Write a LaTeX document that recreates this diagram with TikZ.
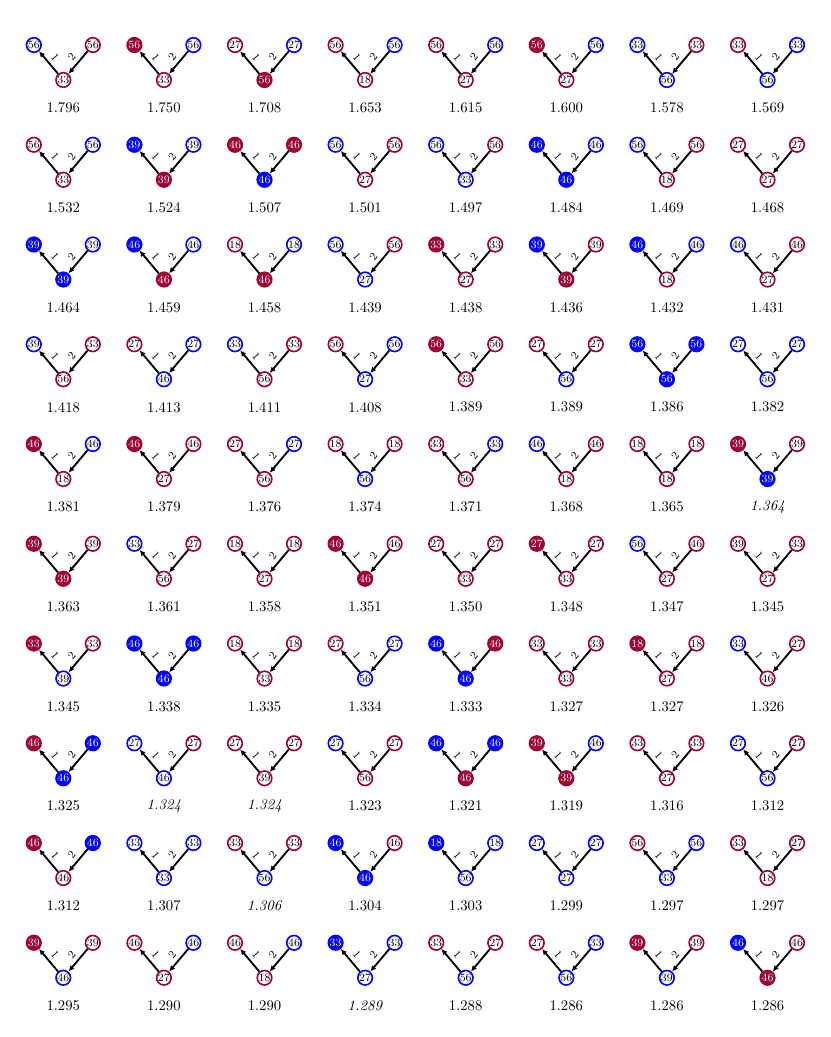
\documentclass[tikz,border=0pt]{standalone}
\usetikzlibrary{arrows.meta}
\definecolor{myblue}{RGB}{0,0,255}
\definecolor{mymaroon}{RGB}{155,0,55}
\tikzset{
  vtx/.style={circle,line width=1.1pt,minimum size=9.9pt,inner sep=0pt,font=\fontsize{7.6}{8}\selectfont},
  bo/.style={draw=myblue,fill=white,text=black},
  bf/.style={draw=myblue,fill=myblue,text=white},
  ro/.style={draw=mymaroon,fill=white,text=black},
  rf/.style={draw=mymaroon,fill=mymaroon,text=white},
  edg/.style={line width=1.25pt,-{Latex[length=4pt,width=3.8pt]}},
  lbl/.style={sloped,above=1.6pt,inner sep=1pt,font=\fontsize{7.6}{8}\selectfont},
  val/.style={inner sep=0pt,font=\fontsize{10}{12}\selectfont}
}
\newcommand\mygr[9]{%
  \pgfmathsetmacro\cx{63.3+100.6*(#2-1)}%
  \pgfmathsetmacro\cy{45+99.75*(#1-1)}%
  \node[vtx,#3] (t#1-#2a) at (\cx-29.5,\cy) {#4};
  \node[vtx,#5] (t#1-#2b) at (\cx+29.5,\cy) {#6};
  \node[vtx,#7] (t#1-#2c) at (\cx,\cy+35) {#8};
  \draw[edg] (t#1-#2c) -- node[lbl]{1} (t#1-#2a);
  \draw[edg] (t#1-#2b) -- node[lbl]{2} (t#1-#2c);
  \node[val] (v#1-#2) at (\cx,\cy+63) {#9};
}
\begin{document}
\begin{tikzpicture}[x=0.68pt,y=-0.68pt]
\useasboundingbox (0,0) rectangle (830,1037);
\mygr{1}{1}{bo}{56}{ro}{56}{ro}{33}{1.796}
\mygr{1}{2}{rf}{56}{bo}{56}{ro}{33}{1.750}
\mygr{1}{3}{ro}{27}{bo}{27}{rf}{56}{1.708}
\mygr{1}{4}{ro}{56}{bo}{56}{ro}{18}{1.653}
\mygr{1}{5}{ro}{56}{bo}{56}{ro}{27}{1.615}
\mygr{1}{6}{rf}{56}{bo}{56}{ro}{27}{1.600}
\mygr{1}{7}{bo}{33}{ro}{33}{bo}{56}{1.578}
\mygr{1}{8}{ro}{33}{bo}{33}{bo}{56}{1.569}
\mygr{2}{1}{ro}{56}{bo}{56}{ro}{33}{1.532}
\mygr{2}{2}{bf}{39}{bo}{39}{rf}{39}{1.524}
\mygr{2}{3}{rf}{46}{rf}{46}{bf}{46}{1.507}
\mygr{2}{4}{bo}{56}{ro}{56}{ro}{27}{1.501}
\mygr{2}{5}{bo}{56}{ro}{56}{bo}{33}{1.497}
\mygr{2}{6}{bf}{46}{bo}{46}{bf}{46}{1.484}
\mygr{2}{7}{bo}{56}{ro}{56}{ro}{18}{1.469}
\mygr{2}{8}{ro}{27}{ro}{27}{ro}{27}{1.468}
\mygr{3}{1}{bf}{39}{bo}{39}{bf}{39}{1.464}
\mygr{3}{2}{bf}{46}{bo}{46}{rf}{46}{1.459}
\mygr{3}{3}{ro}{18}{bo}{18}{rf}{46}{1.458}
\mygr{3}{4}{bo}{56}{ro}{56}{bo}{27}{1.439}
\mygr{3}{5}{rf}{33}{ro}{33}{ro}{27}{1.438}
\mygr{3}{6}{bf}{39}{ro}{39}{rf}{39}{1.436}
\mygr{3}{7}{bf}{46}{bo}{46}{ro}{18}{1.432}
\mygr{3}{8}{bo}{46}{ro}{46}{ro}{27}{1.431}
\mygr{4}{1}{bo}{39}{ro}{33}{ro}{56}{1.418}
\mygr{4}{2}{ro}{27}{bo}{27}{bo}{46}{1.413}
\mygr{4}{3}{bo}{33}{ro}{33}{ro}{56}{1.411}
\mygr{4}{4}{ro}{56}{bo}{56}{bo}{27}{1.408}
\mygr{4}{5}{rf}{56}{ro}{56}{ro}{33}{1.389}
\mygr{4}{6}{ro}{27}{ro}{27}{bo}{56}{1.389}
\mygr{4}{7}{bf}{56}{bf}{56}{bf}{56}{1.386}
\mygr{4}{8}{bo}{27}{bo}{27}{bo}{56}{1.382}
\mygr{5}{1}{rf}{46}{bo}{46}{ro}{18}{1.381}
\mygr{5}{2}{rf}{46}{ro}{46}{ro}{27}{1.379}
\mygr{5}{3}{ro}{27}{bo}{27}{ro}{56}{1.376}
\mygr{5}{4}{ro}{18}{ro}{18}{bo}{56}{1.374}
\mygr{5}{5}{ro}{33}{bo}{33}{ro}{56}{1.371}
\mygr{5}{6}{bo}{46}{ro}{46}{ro}{18}{1.368}
\mygr{5}{7}{ro}{18}{ro}{18}{ro}{18}{1.365}
\mygr{5}{8}{rf}{39}{ro}{39}{bf}{39}{\textit{1.364}}
\mygr{6}{1}{rf}{39}{ro}{39}{rf}{39}{1.363}
\mygr{6}{2}{bo}{33}{ro}{27}{ro}{56}{1.361}
\mygr{6}{3}{ro}{18}{ro}{18}{ro}{27}{1.358}
\mygr{6}{4}{rf}{46}{ro}{46}{rf}{46}{1.351}
\mygr{6}{5}{ro}{27}{ro}{27}{ro}{33}{1.350}
\mygr{6}{6}{rf}{27}{ro}{27}{ro}{33}{1.348}
\mygr{6}{7}{bo}{56}{ro}{46}{ro}{27}{1.347}
\mygr{6}{8}{ro}{39}{ro}{33}{ro}{27}{1.345}
\mygr{7}{1}{rf}{33}{ro}{33}{bo}{39}{1.345}
\mygr{7}{2}{bf}{46}{bf}{46}{bf}{46}{1.338}
\mygr{7}{3}{ro}{18}{ro}{18}{ro}{33}{1.335}
\mygr{7}{4}{ro}{27}{bo}{27}{bo}{56}{1.334}
\mygr{7}{5}{bf}{46}{rf}{46}{bf}{46}{1.333}
\mygr{7}{6}{ro}{33}{ro}{33}{ro}{33}{1.327}
\mygr{7}{7}{rf}{18}{ro}{18}{ro}{27}{1.327}
\mygr{7}{8}{bo}{33}{ro}{27}{ro}{46}{1.326}
\mygr{8}{1}{rf}{46}{bf}{46}{bf}{46}{1.325}
\mygr{8}{2}{bo}{27}{ro}{27}{bo}{46}{\textit{1.324}}
\mygr{8}{3}{ro}{27}{ro}{27}{ro}{39}{\textit{1.324}}
\mygr{8}{4}{bo}{27}{ro}{27}{ro}{56}{1.323}
\mygr{8}{5}{bf}{46}{bf}{46}{rf}{46}{1.321}
\mygr{8}{6}{rf}{39}{bo}{46}{rf}{39}{1.319}
\mygr{8}{7}{ro}{33}{ro}{33}{ro}{27}{1.316}
\mygr{8}{8}{bo}{27}{ro}{27}{bo}{56}{1.312}
\mygr{9}{1}{rf}{46}{bf}{46}{ro}{46}{1.312}
\mygr{9}{2}{bo}{33}{bo}{33}{bo}{33}{1.307}
\mygr{9}{3}{ro}{33}{ro}{33}{bo}{56}{\textit{1.306}}
\mygr{9}{4}{bf}{46}{ro}{46}{bf}{46}{1.304}
\mygr{9}{5}{bf}{18}{bo}{18}{bo}{56}{1.303}
\mygr{9}{6}{bo}{27}{bo}{27}{bo}{27}{1.299}
\mygr{9}{7}{ro}{56}{bo}{56}{bo}{33}{1.297}
\mygr{9}{8}{ro}{33}{ro}{27}{ro}{18}{1.297}
\mygr{10}{1}{rf}{39}{ro}{39}{bo}{46}{1.295}
\mygr{10}{2}{ro}{46}{bo}{46}{ro}{27}{1.290}
\mygr{10}{3}{ro}{46}{bo}{46}{ro}{18}{1.290}
\mygr{10}{4}{bf}{33}{bo}{33}{bo}{27}{\textit{1.289}}
\mygr{10}{5}{ro}{33}{ro}{27}{bo}{56}{1.288}
\mygr{10}{6}{ro}{27}{bo}{33}{bo}{56}{1.286}
\mygr{10}{7}{rf}{39}{ro}{39}{bo}{39}{1.286}
\mygr{10}{8}{bf}{46}{ro}{46}{rf}{46}{1.286}
\end{tikzpicture}
\end{document}
